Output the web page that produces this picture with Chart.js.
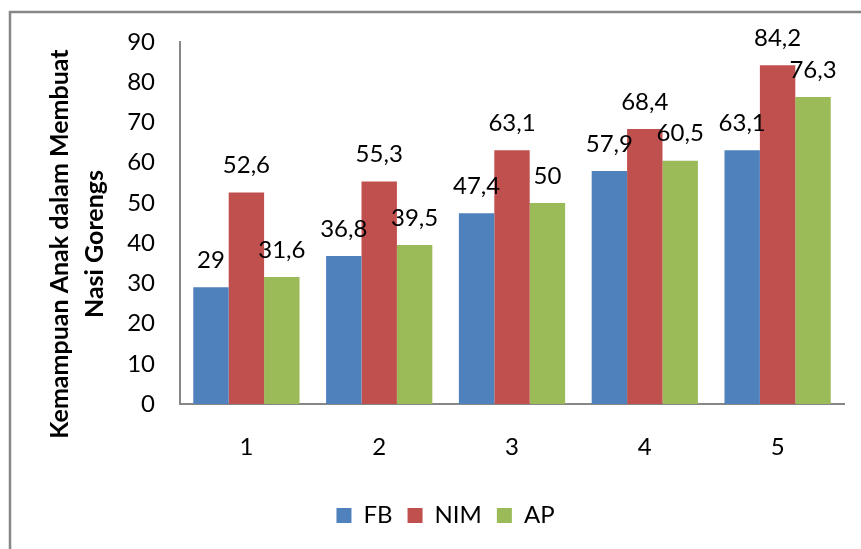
<!DOCTYPE html>
<html>
<head>
<meta charset="utf-8">
<script src="https://cdn.jsdelivr.net/npm/chart.js@4/dist/chart.umd.min.js"></script>
<style>
  html, body { margin: 0; padding: 0; background: #fff; }
  #wrap { position: relative; width: 861px; height: 549px; }
</style>
</head>
<body>
<div id="wrap"><canvas id="c"></canvas></div>
<script>
// Categories and series
const categories = ['1', '2', '3', '4', '5'];
const seriesNames = ['FB', 'NIM', 'AP'];
const fbValues = [29, 36.8, 47.4, 57.9, 63.1];
const nimValues = [52.6, 55.3, 63.1, 68.4, 84.2];
const apValues = [31.6, 39.5, 50, 60.5, 76.3];

// Value axis
const yMin = 0;
const yMax = 90;
const yStep = 10;
const yTitleLines = ['Kemampuan Anak dalam Membuat', 'Nasi Gorengs'];

const FONT = 'Lato';
const colors = ['#4F81BD', '#C0504D', '#9BBB59'];

// Decimal comma, as in the labels on the bars
const fmt = v => String(v).replace('.', ',');

// Outer frame around the figure
const framePlugin = {
  id: 'frame',
  beforeDraw(chart) {
    const ctx = chart.ctx;
    ctx.save();
    ctx.fillStyle = '#fff';
    ctx.fillRect(0, 0, chart.width, chart.height);
    ctx.strokeStyle = '#878787';
    ctx.lineWidth = 2.5;
    ctx.strokeRect(10, 12, chart.width + 50, chart.height + 50);
    ctx.restore();
  }
};

// Value printed above every bar
const valueLabelPlugin = {
  id: 'valueLabels',
  afterDatasetsDraw(chart) {
    const ctx = chart.ctx;
    ctx.save();
    ctx.font = '24px ' + FONT;
    ctx.fillStyle = '#000';
    ctx.textAlign = 'center';
    ctx.textBaseline = 'middle';
    chart.data.datasets.forEach((ds, di) => {
      chart.getDatasetMeta(di).data.forEach((bar, i) => {
        ctx.fillText(fmt(ds.data[i]), bar.x, bar.y - 27);
      });
    });
    ctx.restore();
  }
};

// Two-line rotated title of the value axis
const yTitlePlugin = {
  id: 'yTitle',
  afterDraw(chart) {
    const ctx = chart.ctx;
    const area = chart.chartArea;
    ctx.save();
    ctx.font = 'bold 25px ' + FONT;
    ctx.fillStyle = '#000';
    ctx.textAlign = 'center';
    ctx.textBaseline = 'alphabetic';
    ctx.translate(0, (area.top + area.bottom) / 2 + 21);
    ctx.rotate(-Math.PI / 2);
    yTitleLines.forEach((line, i) => ctx.fillText(line, 0, 68 + i * 35));
    ctx.restore();
  }
};

new Chart(document.getElementById('c'), {
  type: 'bar',
  data: {
    labels: categories,
    datasets: [
      { label: seriesNames[0], data: fbValues, backgroundColor: colors[0] },
      { label: seriesNames[1], data: nimValues, backgroundColor: colors[1] },
      { label: seriesNames[2], data: apValues, backgroundColor: colors[2] }
    ]
  },
  options: {
    responsive: true,
    maintainAspectRatio: false,
    animation: false,
    events: [],
    datasets: { bar: { categoryPercentage: 0.8, barPercentage: 1.0, borderWidth: 0 } },
    layout: { padding: { top: 42, right: 17, bottom: 11.5, left: 47 } },
    plugins: {
      tooltip: { enabled: false },
      title: { display: false },
      legend: {
        position: 'bottom',
        labels: {
          boxWidth: 15,
          boxHeight: 15,
          padding: 15,
          color: '#000',
          font: { family: FONT, size: 24 }
        }
      }
    },
    scales: {
      x: {
        grid: { display: false, drawTicks: false },
        border: { display: true, color: '#878787', width: 2 },
        ticks: { color: '#000', padding: 29, font: { family: FONT, size: 24 } },
        afterFit(s) { s.height = 84.5; }
      },
      y: {
        min: yMin,
        max: yMax,
        grid: { display: false, drawTicks: false },
        border: { display: true, color: '#878787', width: 2 },
        ticks: { stepSize: yStep, color: '#000', padding: 25, font: { family: FONT, size: 24 } },
        afterFit(s) { s.width = 133; }
      }
    }
  },
  plugins: [framePlugin, valueLabelPlugin, yTitlePlugin]
});
</script>
</body>
</html>
